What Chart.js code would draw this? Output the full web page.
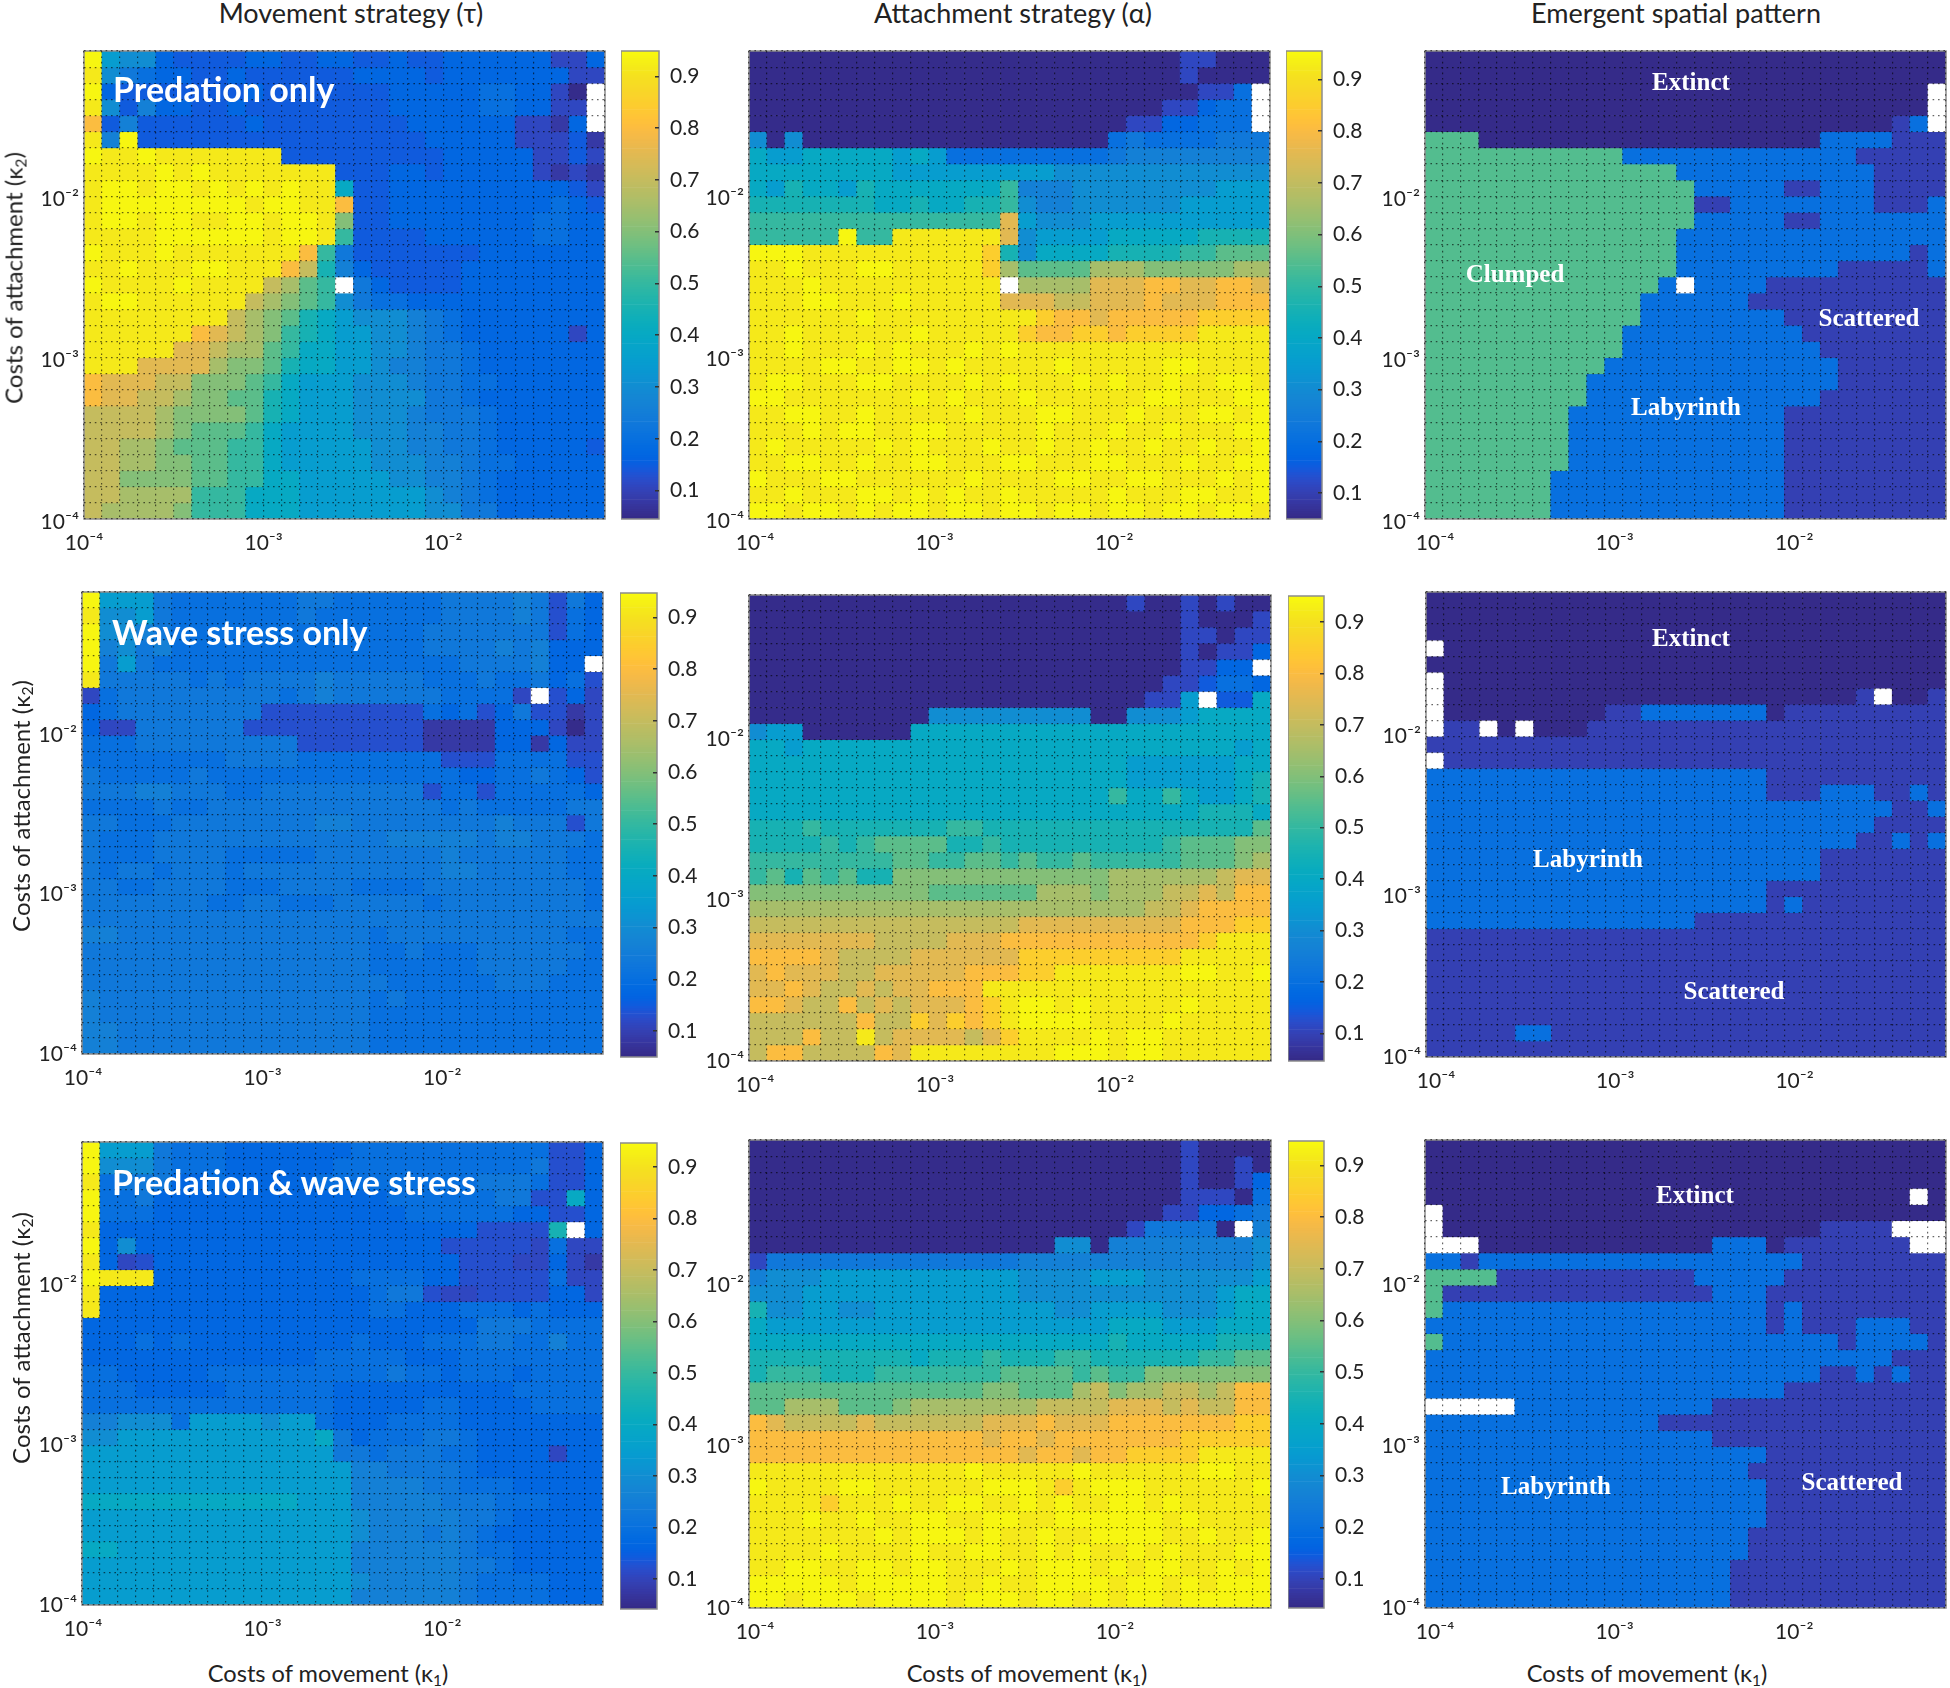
<!DOCTYPE html>
<html><head><meta charset="utf-8">
<script src="https://cdn.jsdelivr.net/npm/chart.js@4"></script>
<style>
html,body{margin:0;padding:0;background:#fff;width:1950px;height:1688px;overflow:hidden}
canvas{position:absolute;display:block}
.t{position:absolute;transform:translate(-50%,-50%);white-space:nowrap;color:#222;font-family:Lato,sans-serif;font-size:27px;z-index:5}
.t sub{font-size:65%;line-height:0;vertical-align:-0.25em}
.x{font-size:23.6px}
.r{font-size:24px;transform:translate(-50%,-50%) rotate(-90deg)}
.w{color:#fff;font-weight:700;font-size:34px;transform:translate(0,-50%)}
.p{color:#fff;font-weight:700;font-family:"Liberation Serif",serif;font-size:25px}
</style></head><body>
<script>
// Estimated cell levels, one letter per cell, rows from top (kappa2 high) to bottom, columns from kappa1 = 1e-4 rightwards.
const levels = {a:.05,b:.08,c:.11,y:.125,d:.145,e:.17,f:.20,g:.23,h:.26,i:.30,j:.35,k:.40,l:.45,m:.50,n:.55,o:.60,p:.65,q:.70,r:.75,s:.80,t:.85,u:.915,v:.94,x:null,
                A:.047,S:.095,L:.20,C:.54};
const logKappa = [-3.95,-3.85,-3.75,-3.65,-3.55,-3.45,-3.35,-3.25,-3.15,-3.05,-2.95,-2.85,-2.75,-2.65,-2.55,-2.45,-2.35,-2.25,-2.15,-2.05,-1.95,-1.85,-1.75,-1.65,-1.55,-1.45,-1.35,-1.25,-1.15];
const tickExponents = [-4,-3.9,-3.8,-3.7,-3.6,-3.5,-3.4,-3.3,-3.2,-3.1,-3,-2.9,-2.8,-2.7,-2.6,-2.5,-2.4,-2.3,-2.2,-2.1,-2,-1.9,-1.8,-1.7,-1.6,-1.5,-1.4,-1.3,-1.2,-1.1];
const decadeLabels = {"-4":"10⁻⁴","-3":"10⁻³","-2":"10⁻²"};
const colorbarTicks = [.1,.2,.3,.4,.5,.6,.7,.8,.9];

const tauPredation = [
"vjiiedddde eddeeddedd eeeeeecce",
"uigfeedded dddddeeeed eeeeeeecc",
"veddddddde dddddddeee eeffeecax",
"uidheedded dddddddeee eeffeeccx",
"sdhdddddde ddddddddee eeeeccbex",
"uhvddddddd ddddddddde eeeecccdb",
"vuuvuuuuuu uddddddddd eeeeeccdc",
"uuuuvuvuuu uuuudddeed eeeeecbcb",
"uvvuvvuvuv uvuukddeee eeeeeeedc",
"uvvvvvvvvu vvuusddeee eeeeeefed",
"uvvuvvuuvv uvvuoddeee eeeeeffee",
"uuuuvvvvvv uvvumdddde eeeeeffee",
"vuuuvuuuuu uusmgddddd ddeeeeeee",
"uuvuuuvvuu usqlhedddd deeeeeeee",
"vuuuuvuuuu qpnmxgeddd deeeeeeee",
"uvvuuuuuuq ponmigffee eeeeeeeee",
"uuuuuuuuqp onlkjiiihg feeeeeeee",
"uuuuuusrqp omlkjjiihg feeeeeece",
"uuuuurrqpp nmkkjjiihg gfeeeeeee",
"uuurrrrpoo nlkkjjihhg gfeeeeeee",
"srrrqqooon mkjjjiiihg gffeeeeee",
"srrqqpoonn lkjjjiiiig gfeeeeeee",
"qqqqpoooon lkjjjiiihg ggfeeeeee",
"qqqqponnnm kjjjjiiihh ggfeeeeee",
"qqpponnnmm kjjjjjiihh ggfeeeeed",
"qqppoonnmm kjjjjjiiih hgffeeeee",
"qqoooonnmm kkjjjjjiih hgfeeeeee",
"qqppppmmmk kkjjjjjjji hgfeeeeee",
"qppppommmk kkjjjjjjji iggeeeeee"];

const alphaPredation = [
"aaaaaaaaaa aaaaaaaaaa aaaaccaaa",
"aaaaaaaaaa aaaaaaaaaa aaaacaaaa",
"aaaaaaaaaa aaaaaaaaaa aaaaaccfx",
"aaaaaaaaaa aaaaaaaaaa aaacceffx",
"aaaaaaaaaa aaaaaaaaaa acceefffx",
"iaiaaaaaaa aaaaaaaaaa fgffffggg",
"kjjkkkkkjk jfffffffff ghhhhhhhh",
"kkkkkkkkjj jjjjjjjiii iiiiiiiii",
"kjlkkjlkkk kkkkmhhhii iiiiiijjj",
"lllllllkkl kkllmihhii iiiijjjjj",
"mmmmmmmmmm mmmmrjiiij jjjjjjjjj",
"mmmmmvmmuu uuuurijjjj kkkkkllll",
"vvvuuuuuuu uuutlikkkk llllmmnnn",
"uuvuuuvvuu uuutpnnnnp ppooooopp",
"uuuvuuuuuu uuuuxppppr rrssrrssr",
"uuuvvuuuvu uuuurrrqqr rrsrrrsss",
"uuuuuuvuuu uuuuuutssr ssssstttt",
"uuvuuuuuuv uuuuutsstt sttttuuuu",
"uuvuuuvuvu uuvuvuuuuu uuuuuuuuu",
"uuuuvvuuvv uvuuuuuvuu uuuvvuuuu",
"uvvuuuvvuu uuvuvuuuvu vuuvuuvvu",
"vvuuuuuuuv uvuuuvuuuu uuvvuuuvv",
"uuvvuuvuuu uuvuuuvvuu uvuuuvvuv",
"uuuvuvvuuv vuuuuuvuuu vuuvuuuvv",
"uvuuuuuvuv uuuvuuvuuv uuvuuvuuv",
"uuvvuuvuuv vuuuvvuuuv vuuuvuuvv",
"vuuuvvuuuu uuvuuuuvvu uvvuuuvuv",
"uuvuuuvvuv uvuuvuuuuu vuuuvvuuv",
"vvuvvuvuvv uvvuvvuvvu vvuvvuvvu"];

const patternPredation = [
"AAAAAAAAAA AAAAAAAAAA AAAAAAAAA",
"AAAAAAAAAA AAAAAAAAAA AAAAAAAAA",
"AAAAAAAAAA AAAAAAAAAA AAAAAAAAx",
"AAAAAAAAAA AAAAAAAAAA AAAAAAAAx",
"AAAAAAAAAA AAAAAAAAAA AAAAAASLx",
"CCCAAAAAAA AAAAAAAAAA AALLLLSSS",
"CCCCCCCCCC CLLLLLLLLL LLLLSSSSS",
"CCCCCCCCCC CCCCLLLLLL LLLLLSSSS",
"CCCCCCCCCC CCCCCLLLLL SSLLLSSSS",
"CCCCCCCCCC CCCCCSSLLL LLLLLSSSL",
"CCCCCCCCCC CCCCCLLLLL SSLLLLLLL",
"CCCCCCCCCC CCCCLLLLLL LLLLLLLLL",
"CCCCCCCCCC CCCCLLLLLL LLLLLLLSL",
"CCCCCCCCCC CCCCLLLLLL LLLSSSSSL",
"CCCCCCCCCC CCCLxLLLLS SSSSSSSSS",
"CCCCCCCCCC CCLLLLLLSS SSSSSSSSS",
"CCCCCCCCCC CCLLLLLLLL SSSSSSSSS",
"CCCCCCCCCC CLLLLLLLLL LSSSSSSSS",
"CCCCCCCCCC CLLLLLLLLL LLSSSSSSS",
"CCCCCCCCCC LLLLLLLLLL LLLSSSSSS",
"CCCCCCCCCL LLLLLLLLLL LLLSSSSSS",
"CCCCCCCCCL LLLLLLLLLL LLSSSSSSS",
"CCCCCCCCLL LLLLLLLLLL SSSSSSSSS",
"CCCCCCCCLL LLLLLLLLLL SSSSSSSSS",
"CCCCCCCCLL LLLLLLLLLL SSSSSSSSS",
"CCCCCCCCLL LLLLLLLLLL SSSSSSSSS",
"CCCCCCCLLL LLLLLLLLLL SSSSSSSSS",
"CCCCCCCLLL LLLLLLLLLL SSSSSSSSS",
"CCCCCCCLLL LLLLLLLLLL SSSSSSSSS"];

const tauWave = [
"vjjjgfffff ffggffffff gggghgyge",
"uiijgfffff ffgfffffff gggghgyfe",
"viihgfffff fffffffffg ggggggyfe",
"vhighfffff fffffffffg ggghgheee",
"vgjgffffff ffffffffff fggggheex",
"ugggggfgfg ggghgggggf ffgffgefy",
"cfgggggggg gfghgggggg ffffcxyec",
"efgggggggg yyyyyyyyyf efyegyybc",
"eccggggggy yyyyyyyyyb bbbeeecac",
"fffggggggg ggyyyyyyyb bbbeebecc",
"ffffffffgg ggffffffff yyyffffyy",
"gfffffgfff ffffffffff feeffgfey",
"ggghhgggff gggggggggy ffyfffffe",
"ffffgffggg gggggggggg fgfffffgg",
"ggfffggggg ggghhggggg ggghgggyg",
"gfffgggggg ggggggghhh hhghhgggf",
"gfffggggff fffggggggg hggggggff",
"gfggfgggfg gggggggggg hhgggggff",
"ggffggggff fggggffffg ggggggggf",
"gggggggffg gfffgggggf ggggggggf",
"gggggggggg gggggggggg ggggggggg",
"hhgggggggg ggggggfggg gggggggff",
"gggggggggg ggggggffgf ffggggggf",
"gggggggggg ggggggffff ffgggggff",
"gggggggggg gggggggfff fffgggfff",
"hggggggggg ggggggfgff fffffffff",
"hggggggggg ggggggffff fffffffff",
"hhgggggggg ggggggffff fffffffff",
"hhgggggggg ggggggffff fffffffff"];

const alphaWave = [
"aaaaaaaaaa aaaaaaaaaa acaacacaa",
"aaaaaaaaaa aaaaaaaaaa aaaacaaac",
"aaaaaaaaaa aaaaaaaaaa aaaaccacc",
"aaaaaaaaaa aaaaaaaaaa aaaacacce",
"aaaaaaaaaa aaaaaaaaaa aaaacceex",
"aaaaaaaaaa aaaaaaaaaa aaaccdffe",
"aaaaaaaaaa aaaaaaaaaa aaccjxddk",
"aaaaaaaaaa iiiiiiiiia aiiijkkkk",
"ijjaaaaaak kkkkkkkkkk kkkkkkkkk",
"kkjkkkkkkk kkkkkkkkkk kkkkkkkjk",
"kkkkkkkkkk kkkkkkkkkk kjjjjjjkk",
"kkkkkkkkkk kkkkkkkkkk kjjjjjjkl",
"kkkkkkkkkk kkkkkkkkkk mkkmkjjkl",
"kkkkkkkkkk kkkkkkkkkk kkkkklllk",
"lllmllllll lmmlllllll lllllllln",
"llllmlmnnn nllmllllll lllmnnnoo",
"mmmmmmmmnn mmnnmnmmnm mmmmnnnop",
"mnlnmnlloo oooooooooo ppppppqrr",
"oooooooooo nnnnnnpppo pppqqrqss",
"pppppppppp pppppppppp ppqqrssss",
"qqqqqqqqqq qqqqqrrrrr rrrrssstt",
"rrrrrrrqqq qrrrssssss ssssstuuu",
"ssssrqqqqr rrrrrttttt ttttuuuuu",
"rsrrrqqrrr rrsssttuuu uuuuvvuuv",
"rrsrqqrqrr sssuuuuuuu uuuuuuuuu",
"ssrqqsqrqr rrstuvvuvu uuuuvuuuu",
"qqqqqqsqqt rtstuvvvvu uuuvuuuuu",
"qqqsqquqrr rrqrtuuuuv uvvuuuuuu",
"qssqqqqsru uuuuuuuvvv uvvuuuuuu"];

const patternWave = [
"AAAAAAAAAA AAAAAAAAAA AAAAAAAAA",
"AAAAAAAAAA AAAAAAAAAA AAAAAAAAA",
"AAAAAAAAAA AAAAAAAAAA AAAAAAAAA",
"xAAAAAAAAA AAAAAAAAAA AAAAAAAAA",
"AAAAAAAAAA AAAAAAAAAA AAAAAAAAA",
"xAAAAAAAAA AAAAAAAAAA AAAAAAAAA",
"xAAAAAAAAA AAAAAAAAAA AAAASxAAS",
"xAAAAAAAAA SSLLLLLLLA SSSSSSSSS",
"xSSxAxAAAS SSSSSSSSSS SSSSSSSSS",
"SSSSSSSSSS SSSSSSSSSS SSSSSSSSS",
"xSSSSSSSSS SSSSSSSSSS SSSSSSSSS",
"LLLLLLLLLL LLLLLLLLLS SSSSSSSSS",
"LLLLLLLLLL LLLLLLLLLS SSLLLSSLS",
"LLLLLLLLLL LLLLLLLLLL LLLLLLSSL",
"LLLLLLLLLL LLLLLLLLLL LLLLLSSSS",
"LLLLLLLLLL LLLLLLLLLL LLLLSSLSL",
"LLLLLLLLLL LLLLLLLLLL LLSSSSSSS",
"LLLLLLLLLL LLLLLLLLLL LLSSSSSSS",
"LLLLLLLLLL LLLLLLLLLS SSSSSSSSS",
"LLLLLLLLLL LLLLLLLLLS LSSSSSSSS",
"LLLLLLLLLL LLLLLSSSSS SSSSSSSSS",
"SSSSSSSSSS SSSSSSSSSS SSSSSSSSS",
"SSSSSSSSSS SSSSSSSSSS SSSSSSSSS",
"SSSSSSSSSS SSSSSSSSSS SSSSSSSSS",
"SSSSSSSSSS SSSSSSSSSS SSSSSSSSS",
"SSSSSSSSSS SSSSSSSSSS SSSSSSSSS",
"SSSSSSSSSS SSSSSSSSSS SSSSSSSSS",
"SSSSSLLSSS SSSSSSSSSS SSSSSSSSS",
"SSSSSSSSSS SSSSSSSSSS SSSSSSSSS"];

const tauBoth = [
"vjjjgfffee eeeeefffff ffffffyye",
"viiigfffee eeeeffffff fffffgyye",
"ufgggeefee eeefffffff ffgggfyye",
"vffgeeeeee eeeeeeefff fffggyyke",
"vfffeeeeee eeeeeeeeff ffffeeyye",
"ueeeeeeeee eeeeeeeeee eeyyyylxe",
"veieeeeeee eeeeeeeeee yyyyycfcc",
"uecyeeeeee eeeeeeeeee eyyyccecb",
"vuuueeeeee eeeeeffffe eyyyyyfcc",
"ueeeeeeeee eeeeeefggy ccyyyyeec",
"ueeeeeeeee eeeeeeffee efffefeee",
"eeeeeeeeee eeeeeeeeee eegggffff",
"eeefefeeee eeeeefeeef ffggffhff",
"eeeeeeeeee eeefffffee effffffff",
"ffeeeeefff fffffffgff efffeffff",
"fffeeeeeff ffffeeeeee eeeefffff",
"ffffffffff ffffeeeeef feeeeffff",
"hhiiifjjjj ijjfeeefff feeeeeeee",
"iijjjjjjjj jjjkgefffg gfeeeeeee",
"jjjjjjjjjj jjjjggfggg ffeeeecee",
"jjjjjjjjjj jjjjjhhggg gfeeeeeee",
"jjjjjjjjjj jjjjjhhhhg gfffeeeee",
"kkkkkkkkkk kkjjjhhhhh gggfffeee",
"jjjjjjjjjj jjjjjihhhh hggfeeeee",
"jjjjjjjjjj jjjjjihhhg hgfeeeeee",
"kkjjjjjjjj jjjjjhhhhh hgffeeeee",
"jjjjjjjjjj jjjjjhhhhh hggfeeeee",
"jjjjjjjjjj jjjjjihhhh hgffffeee",
"jjjjjjjjjj jjjjjhhhhh hgffffeee"];

const alphaBoth = [
"aaaaaaaaaa aaaaaaaaaa aaaacaaaa",
"aaaaaaaaaa aaaaaaaaaa aaaacaaca",
"aaaaaaaaaa aaaaaaaaaa aaaacaace",
"aaaaaaaaaa aaaaaaaaaa aaaacccaf",
"aaaaaaaaaa aaaaaaaaaa aaacceefg",
"aaaaaaaaaa aaaaaaaaaa acggggaxh",
"aaaaaaaaaa aaaaaaaiia hhhhhhhhi",
"cggggggggg ggggghhhhh hhhhhhhhi",
"hiiijjjjjj jjjjjiiiij jjiiiiiij",
"iiijjjjjjj jjjjjiiiii iiiiiijkk",
"liijjiijjj jjjjjjjiij jjjiiijkk",
"kjjjjjjjjj jjjjjjjjjj kkkjjjkkk",
"kkkkkkkkkk kkkkkkkkkk lkkkkklll",
"lllllllllk lllmlllmml lllllmmnn",
"lmmmlllmmm mmmmnnnnmn mmooooooo",
"nnnnnnnnnn nnnoonnnpq oppqqpqss",
"nnpppnnnop ppppppqqqq rrrqrqqss",
"srqqqqrqqq qqqrrrsrrr ssssssstt",
"ssssssssss sssrssrsss ssssttttt",
"ssssssssss sssssrssrs sttttuuuu",
"uuuuuuuuuu uuvuuuuuvu uuuuuvvuu",
"vuuuuvvuuu uuuvvvutuv vvuuuuuuv",
"uuuutuuuvu uvvuuvuvuu vvuvuuuuu",
"uuuvuuvuuv vuuvvuuvvv vvvuvuuuu",
"uuuuuuuvuv vvuvuuvuuv vvvuuvuuv",
"uuuuvuuuuv uuvvuuvuvu uvuvuuuvv",
"uuvvuuvvuv vuuuvuvvvu vuvvuuvuv",
"vvvvvuvvvv vuuvuuvvvv uvvuvuvvv",
"vvuvvvuvvv vuvvvuvvuv uvvuvvvvv"];

const patternBoth = [
"AAAAAAAAAA AAAAAAAAAA AAAAAAAAA",
"AAAAAAAAAA AAAAAAAAAA AAAAAAAAA",
"AAAAAAAAAA AAAAAAAAAA AAAAAAAAA",
"AAAAAAAAAA AAAAAAAAAA AAAAAAAxA",
"xAAAAAAAAA AAAAAAAAAA AAAAAAAAA",
"xAAAAAAAAA AAAAAAAAAA AASSSSxxx",
"xxxAAAAAAA AAAAAALLLA SSSSSSSxx",
"LLSLLLLLLL LLLLLLLLLL LSSSSSSSS",
"CCCCSSSSSS SSSSSLLLLL SSSSSSSSS",
"CSSSSSSSSS SSSSSSLLLS SSSSSSSSS",
"CLLLLLLLLL LLLLLLLLLS LSSSSSSSS",
"LLLLLLLLLL LLLLLLLLLS LSSSLLLSS",
"CLLLLLLLLL LLLLLLLLLL LLLSLLLLS",
"LLLLLLLLLL LLLLLLLLLL LLLLLLSSS",
"LLLLLLLLLL LLLLLLLLLL LLSSLSLSS",
"LLLLLLLLLL LLLLLLLLLL SSSSSSSSS",
"xxxxxLLLLL LLLLLLSSSS SSSSSSSSS",
"LLLLLLLLLL LLLSSSSSSS SSSSSSSSS",
"LLLLLLLLLL LLLLLLSSSS SSSSSSSSS",
"LLLLLLLLLL LLLLLLLLLS SSSSSSSSS",
"LLLLLLLLLL LLLLLLLLSS SSSSSSSSS",
"LLLLLLLLLL LLLLLLLLLS SSSSSSSSS",
"LLLLLLLLLL LLLLLLLLLS SSSSSSSSS",
"LLLLLLLLLL LLLLLLLLLS SSSSSSSSS",
"LLLLLLLLLL LLLLLLLLSS SSSSSSSSS",
"LLLLLLLLLL LLLLLLLLSS SSSSSSSSS",
"LLLLLLLLLL LLLLLLLSSS SSSSSSSSS",
"LLLLLLLLLL LLLLLLLSSS SSSSSSSSS",
"LLLLLLLLLL LLLLLLLSSS SSSSSSSSS"];

// ---- colour map (parula, 64 steps) ----
const parula = [[.2081,.1663,.5292],[.2116,.1898,.5777],[.2123,.2138,.6270],[.2081,.2386,.6771],[.1959,.2645,.7279],[.1707,.2919,.7792],[.1253,.3242,.8303],[.0591,.3598,.8683],[.0117,.3875,.8820],[.0060,.4086,.8828],[.0165,.4266,.8786],[.0329,.4430,.8720],[.0498,.4586,.8641],[.0629,.4737,.8554],[.0723,.4887,.8467],[.0779,.5040,.8384],[.0793,.5200,.8312],[.0749,.5375,.8263],[.0641,.5570,.8240],[.0488,.5772,.8228],[.0343,.5966,.8199],[.0265,.6137,.8135],[.0239,.6287,.8038],[.0231,.6418,.7913],[.0228,.6535,.7768],[.0267,.6642,.7607],[.0384,.6743,.7436],[.0590,.6838,.7254],[.0843,.6928,.7062],[.1133,.7015,.6859],[.1453,.7098,.6646],[.1801,.7177,.6424],[.2178,.7250,.6193],[.2586,.7317,.5954],[.3022,.7376,.5712],[.3482,.7424,.5473],[.3953,.7459,.5244],[.4420,.7481,.5033],[.4871,.7491,.4840],[.5300,.7491,.4661],[.5709,.7485,.4494],[.6099,.7473,.4337],[.6473,.7456,.4188],[.6834,.7435,.4044],[.7184,.7411,.3905],[.7525,.7384,.3768],[.7858,.7356,.3633],[.8185,.7327,.3498],[.8507,.7299,.3360],[.8824,.7274,.3217],[.9139,.7258,.3063],[.9450,.7261,.2886],[.9739,.7314,.2666],[.9938,.7455,.2403],[.9990,.7653,.2164],[.9955,.7861,.1967],[.9880,.8066,.1794],[.9789,.8271,.1633],[.9697,.8481,.1475],[.9626,.8705,.1309],[.9589,.8949,.1132],[.9598,.9218,.0948],[.9661,.9514,.0755],[.9763,.9831,.0538]];
const CMIN=.045, CMAX=.949;
function colorOf(v){
  if(v===null||v===undefined) return '#ffffff';
  const t=Math.max(0,Math.min(1,(v-CMIN)/(CMAX-CMIN)))*(parula.length-1);
  const i=Math.min(parula.length-2,Math.floor(t)),f=t-i;
  const c=parula[i].map((x,k)=>Math.round(255*(x+(parula[i+1][k]-x)*f)));
  return `rgb(${c})`;
}
const frame={id:'frame',afterDatasetsDraw(ch){const a=ch.chartArea,c=ch.ctx;c.save();c.strokeStyle='#8c8c8c';c.lineWidth=1.5;c.strokeRect(a.left,a.top,a.right-a.left,a.bottom-a.top);c.restore();}};
const noPad=s=>{s.paddingLeft=s.paddingRight=s.paddingTop=s.paddingBottom=0;};

function addCanvas(x,y,w,h){
  const c=document.createElement('canvas');c.width=w;c.height=h;
  c.style.left=x+'px';c.style.top=y+'px';c.style.width=w+'px';c.style.height=h+'px';
  document.body.appendChild(c);return c;
}
const TICK_FONT={family:'Lato, "Noto Sans", sans-serif',size:21};
function heatmap(grid,x0,x1,y0,y1,xShift,yShift){
  const L=70,B=40,T=6,R=4;
  x0=Math.round(x0);x1=Math.round(x1);y0=Math.round(y0);y1=Math.round(y1);
  const rows=grid.map(s=>s.replace(/ /g,'').split('').map(ch=>levels[ch]));
  const datasets=rows.map((vals,r)=>{
    const e=logKappa[28-r];
    return {grouped:false,barPercentage:1,categoryPercentage:1,borderWidth:0,
      data:vals.map((v,c)=>({x:10**logKappa[c],y:[10**(e-.05),10**(e+.05)]})),
      backgroundColor:vals.map(colorOf)};
  });
  const setTicks=s=>{s.ticks=tickExponents.map(e=>({value:10**e}));};
  const labelOf=(val,i)=>decadeLabels[String(tickExponents[i])]||'';
  const axis=(extra)=>Object.assign({type:'logarithmic',min:1e-4,max:10**-1.1,offset:false,beginAtZero:false,
    afterBuildTicks:setTicks,
    grid:{offset:false,color:'rgba(0,0,0,.6)',lineWidth:1.2,z:1,drawTicks:false},
    border:{display:false,dash:[1.6,3.8]},
  },extra);
  new Chart(addCanvas(x0-L,y0-T,x1-x0+L+R,y1-y0+T+B),{type:'bar',data:{datasets},plugins:[frame],options:{
    responsive:false,animation:false,devicePixelRatio:1,
    layout:{padding:{left:0,top:T,right:R,bottom:0}},
    plugins:{legend:{display:false},tooltip:{enabled:false},title:{display:false}},
    scales:{
      x:axis({afterFit:s=>{s.height=B;noPad(s);},ticks:{autoSkip:false,maxRotation:0,minRotation:0,padding:12,labelOffset:xShift||0,color:'#222',font:TICK_FONT,callback:labelOf}}),
      y:axis({afterFit:s=>{s.width=L;noPad(s);},ticks:{autoSkip:false,padding:5,labelOffset:yShift||0,color:'#222',font:TICK_FONT,callback:labelOf}})
    }}});
}
function colorbar(x0,x1,y0,y1,lo,hi){
  const R=50,T=8,B=8;
  x0=Math.round(x0);x1=Math.round(x1);y0=Math.round(y0);y1=Math.round(y1);
  const N=parula.length*3,ds=[];
  for(let i=0;i<N;i++){
    const a=lo+(hi-lo)*i/N,b=lo+(hi-lo)*(i+1)/N;
    const m=CMIN+(CMAX-CMIN)*(i+.5)/N;
    ds.push({grouped:false,barPercentage:1,categoryPercentage:1,borderWidth:0,data:[[a,b]],backgroundColor:colorOf(m)});
  }
  new Chart(addCanvas(x0,y0-T,x1-x0+R,y1-y0+T+B),{type:'bar',data:{labels:[''],datasets:ds},plugins:[frame],options:{
    responsive:false,animation:false,devicePixelRatio:1,
    layout:{padding:{top:T,bottom:B,left:0,right:0}},
    plugins:{legend:{display:false},tooltip:{enabled:false}},
    scales:{
      x:{display:false,offset:true,grid:{display:false}},
      y:{position:'right',min:lo,max:hi,bounds:'data',beginAtZero:false,
        afterBuildTicks:s=>{s.ticks=colorbarTicks.map(value=>({value}));},
        afterFit:s=>{s.width=R;noPad(s);},
        grid:{drawOnChartArea:false,tickLength:-4,color:'#333',lineWidth:1.5,z:2},
        border:{display:false},
        ticks:{padding:15,color:'#222',font:{family:'Lato, sans-serif',size:21},autoSkip:false,callback:v=>v.toFixed(1)}}
    }}});
}
function text(html,cx,cy,cls){
  const d=document.createElement('div');d.className='t '+(cls||'');d.innerHTML=html;
  d.style.left=cx+'px';d.style.top=cy+'px';document.body.appendChild(d);
}

// ---- panels ----
heatmap(tauPredation,83.7,605,50.5,518.6,0,3);
heatmap(alphaPredation,748.6,1269.8,50.5,518.6,6,2);
heatmap(patternPredation,1424.8,1946.4,50.5,518.6,10,3);
heatmap(tauWave,82.4,602.8,591.6,1054.2,1,0);
heatmap(alphaWave,749.4,1271.4,594.9,1060.9,6,0);
heatmap(patternWave,1425.5,1946.4,591.6,1056.9,10,0);
heatmap(tauBoth,82.4,602.8,1141.7,1604.8,1,0);
heatmap(alphaBoth,749.4,1271.4,1140,1608,6,0);
heatmap(patternBoth,1424.8,1946.4,1140,1608,10,0);

colorbar(621.4,658.7,50.7,518.6,.045,.949);
colorbar(1286,1322,50.7,518.6,.05,.955);
colorbar(620,657,592.5,1057,.05,.947);
colorbar(1288,1324,595.5,1060.9,.046,.951);
colorbar(620,657,1142.5,1609,.042,.947);
colorbar(1288,1324,1140.6,1608,.044,.947);

// ---- text ----
text('Movement strategy (τ)',351,12);
text('Attachment strategy (α)',1013,12);
text('Emergent spatial pattern',1676,12);
text('Costs of movement (κ<sub>1</sub>)',328,1673,'x');
text('Costs of movement (κ<sub>1</sub>)',1027,1673,'x');
text('Costs of movement (κ<sub>1</sub>)',1647,1673,'x');
text('Costs of attachment (κ<sub>2</sub>)',13,278,'r');
text('Costs of attachment (κ<sub>2</sub>)',20,806,'r');
text('Costs of attachment (κ<sub>2</sub>)',20,1338,'r');
text('Predation only',113,88,'w');
text('Wave stress only',112,631,'w');
text('Predation &amp; wave stress',112,1181,'w');
text('Extinct',1691,82,'p');text('Clumped',1515,274,'p');text('Scattered',1869,318,'p');text('Labyrinth',1686,407,'p');
text('Extinct',1691,638,'p');text('Labyrinth',1588,859,'p');text('Scattered',1734,991,'p');
text('Extinct',1695,1195,'p');text('Labyrinth',1556,1486,'p');text('Scattered',1852,1482,'p');
</script>
</body></html>
